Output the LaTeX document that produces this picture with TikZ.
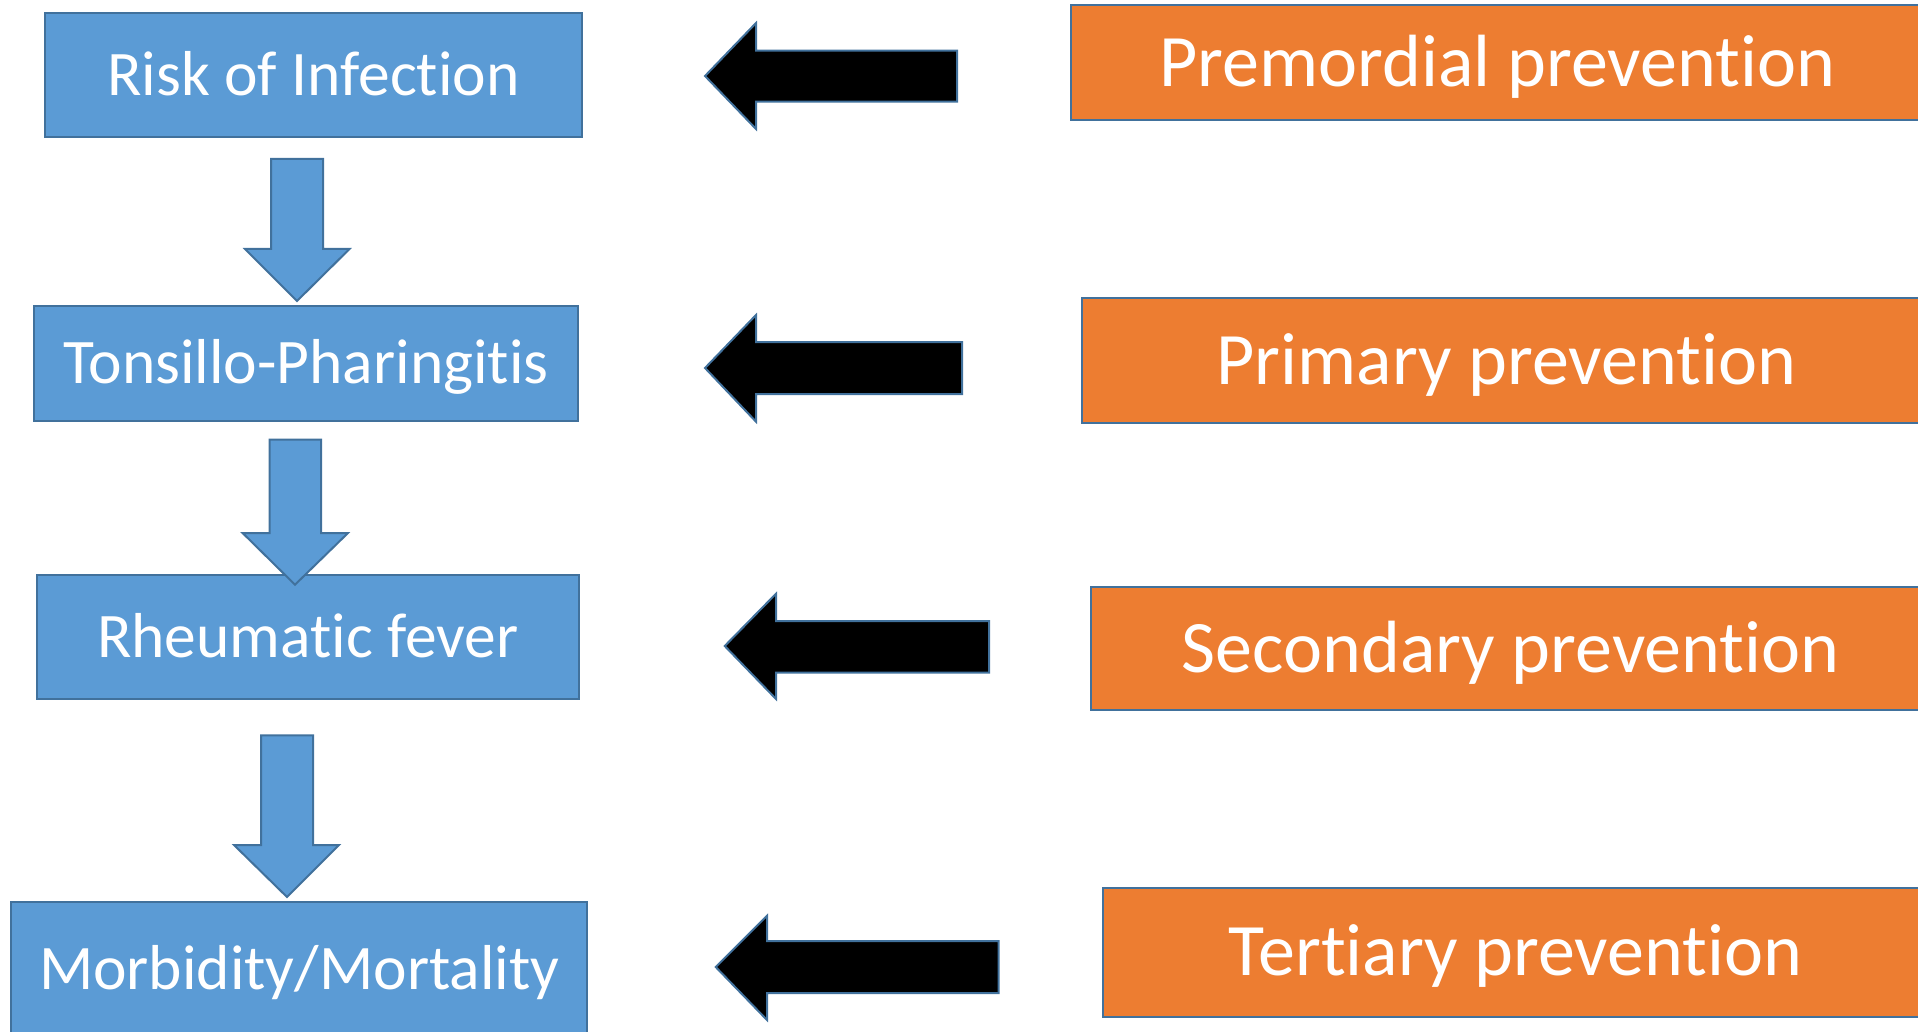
\documentclass[tikz,border=0pt]{standalone}
\usepackage{fontspec}
\setmainfont[RawFeature={-liga;-clig;-dlig}]{Carlito}
\definecolor{boxblue}{HTML}{5B9BD5}
\definecolor{edgeblue}{HTML}{41719C}
\definecolor{boxorange}{HTML}{ED7D31}
\tikzset{
  stage/.style={draw=edgeblue, line width=2pt, fill=boxblue, text=white, inner sep=0pt,
    font=\fontsize{63.5}{70}\selectfont, text height=40.8pt, text depth=0pt, align=center},
  level/.style={draw=edgeblue, line width=2pt, fill=boxorange, text=white, inner sep=0pt,
    font=\fontsize{74}{80}\selectfont, text height=47.5pt, text depth=0pt, align=center},
  downarrow/.style={draw=edgeblue, line width=2pt, fill=boxblue, line join=miter},
  leftarrow/.style={draw=edgeblue, line width=2pt, fill=black, line join=miter},
}
\begin{document}
\begin{tikzpicture}[x=1pt, y=-1pt]
\useasboundingbox (0,0) rectangle (1918,1032);
% left column
\node[stage, minimum width=537pt, minimum height=124pt] (risk) at (313.5,75.3) {Risk of Infection};
\node[stage, minimum width=544pt, minimum height=115.3pt] (tons) at (306,363.3) {Tonsillo-Pharingitis};
\node[stage, minimum width=541.7pt, minimum height=123.7pt] (rheu) at (307.8,637.2) {Rheumatic fever};
\node[stage, minimum width=575.5pt, minimum height=135pt] (morb) at (299.2,969.5) {Morbidity/Mortality};
% right column
\node[level, minimum width=851.6pt, minimum height=115.3pt] (prem) at (1497.2,62.4) {Premordial prevention};
\node[level, minimum width=847.5pt, minimum height=125.3pt] (prim) at (1506.2,360.4) {Primary prevention};
\node[level, minimum width=838.7pt, minimum height=123.6pt] (seco) at (1510.6,648.5) {Secondary prevention};
\node[level, minimum width=825pt, minimum height=129pt] (tert) at (1515.5,952.2) {Tertiary prevention};
% down block arrows
\draw[downarrow] (271,159) -- (323,159) -- (323,249) -- (349.5,249) -- (297,301) -- (245,249) -- (271,249) -- cycle;
\draw[downarrow] (269.5,439.5) -- (321,439.5) -- (321,533) -- (348,533) -- (295,584.7) -- (242.6,533) -- (269.5,533) -- cycle;
\draw[downarrow] (261,735.4) -- (313,735.4) -- (313,845) -- (339,845) -- (287,897) -- (234,845) -- (261,845) -- cycle;
% left block arrows
\draw[leftarrow] (705,76) -- (756,23) -- (756,50.7) -- (957,50.7) -- (957,101.7) -- (756,101.7) -- (756,129) -- cycle;
\draw[leftarrow] (705,368) -- (756,315) -- (756,342) -- (962,342) -- (962,394) -- (756,394) -- (756,421.7) -- cycle;
\draw[leftarrow] (724.7,646) -- (776,593.7) -- (776,621) -- (989,621) -- (989,672.5) -- (776,672.5) -- (776,699) -- cycle;
\draw[leftarrow] (715.7,967) -- (767,915.7) -- (767,941) -- (998.7,941) -- (998.7,993) -- (767,993) -- (767,1020) -- cycle;
\end{tikzpicture}
\end{document}
